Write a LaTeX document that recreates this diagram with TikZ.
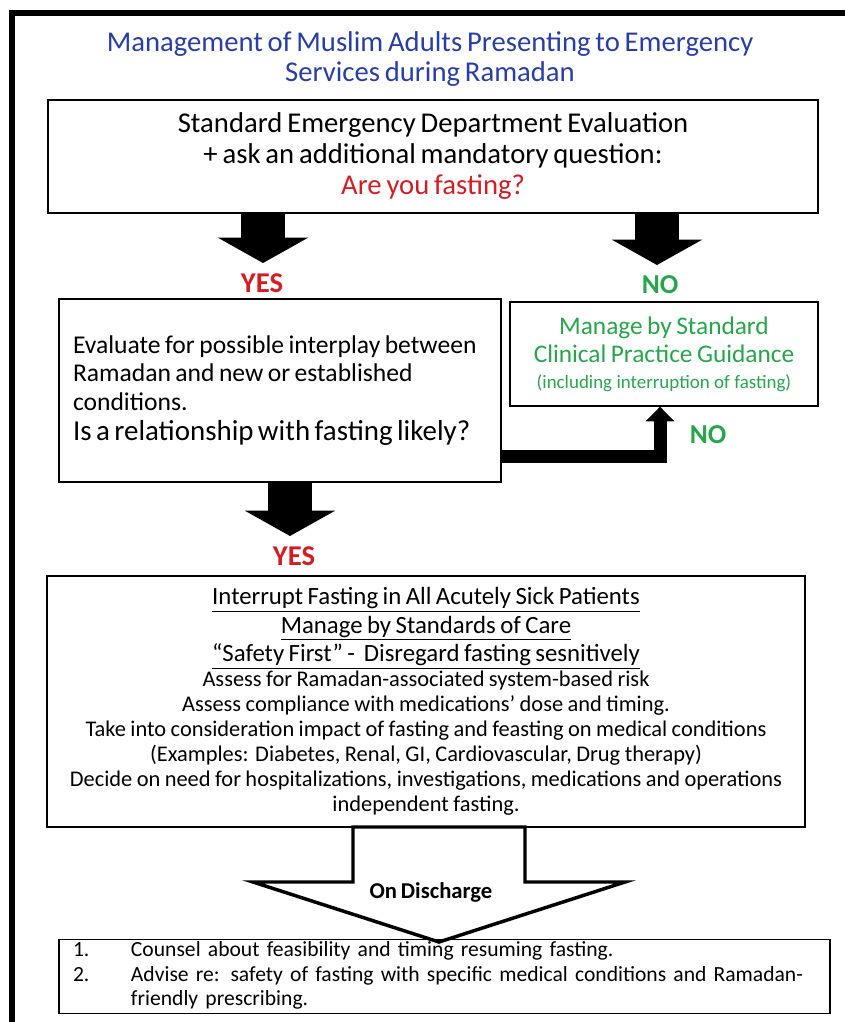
\documentclass[tikz,border=0pt]{standalone}
\usepackage{fontspec}
\setmainfont[WordSpace=0.75]{Carlito}
\usetikzlibrary{arrows.meta, positioning, calc}

\definecolor{titleblue}{RGB}{40,62,165}
\definecolor{yesred}{RGB}{210,30,35}
\definecolor{nogreen}{RGB}{40,165,75}

\tikzset{
  box/.style={draw, line width=1pt, inner sep=0pt},
  fatarrow/.style={line width=33pt, -{Triangle[length=19pt, width=67pt]}},
  elbowarrow/.style={line width=9.75pt, line join=miter, -{Triangle[length=11pt, width=21pt]}},
  yeslabel/.style={text=yesred, font=\bfseries\fontsize{21.5}{24}\selectfont},
  nolabel/.style={text=nogreen, font=\bfseries\fontsize{20.5}{24}\selectfont},
}

\begin{document}
\begin{tikzpicture}[x=0.75pt, y=-0.75pt]
    \useasboundingbox (0,0) rectangle (845,1022);

    % Frame
    \draw[line width=4.5pt, line join=miter] (845,13) -- (12,13) -- (12,1022);

    % Title
    \node[text=titleblue, align=center, font=\fontsize{21.5}{22.5}\selectfont] (title) at (430,59)
        {Management of Muslim Adults Presenting to Emergency\\Services during Ramadan};

    % Evaluation
    \node[box, minimum width=577.5pt, minimum height=84.75pt, align=center,
          font=\fontsize{21.5}{23.25}\selectfont] (eval) at (433,156.5)
        {Standard Emergency Department Evaluation\\+ ask an additional mandatory question:\\\textcolor{yesred}{Are you fasting?}};

    % Yes / No
    \coordinate (yesTip) at (263,263);
    \coordinate (noTip) at (657,265);
    \draw[fatarrow] (eval.south -| yesTip) -- (yesTip);
    \draw[fatarrow] (eval.south -| noTip) -- (noTip);
    \node[yeslabel] (yes1) at (262,283) {YES};
    \node[nolabel] (no1) at (660,285) {NO};

    % Interplay
    \node[box, minimum width=331.5pt, minimum height=137.25pt, text width=310.5pt, align=left] (interplay) at (280,390.5)
        {{\fontsize{19.2}{21.4}\selectfont Evaluate for possible interplay between\\Ramadan and new or established\\conditions.\par}%
         {\fontsize{21.7}{22.5}\selectfont Is a relationship with fasting likely?\par}};

    % Standard practice
    \node[box, minimum width=231pt, minimum height=78pt, text width=231pt, align=center, text=nogreen] (standard) at (664,354)
        {{\fontsize{19}{21}\selectfont Manage by Standard\\Clinical Practice Guidance\par}%
         {\fontsize{14.2}{19.5}\selectfont (including interruption of fasting)\par}};

    % No from interplay
    \coordinate (noKnee) at (660,456);
    \draw[elbowarrow] (interplay.east |- noKnee) -| (standard.south -| noKnee);
    \node[nolabel] (no2) at (708,435) {NO};

    % Yes from interplay
    \coordinate (yesTip2) at (290,536);
    \draw[fatarrow] (interplay.south -| yesTip2) -- (yesTip2);
    \node[yeslabel] (yes2) at (294,556) {YES};

    % Care
    \node[box, minimum width=568.5pt, minimum height=188.25pt, text width=560pt, align=center] (care) at (426,701.5)
        {{\fontsize{18.6}{21.4}\selectfont \underline{Interrupt Fasting in All Acutely Sick Patients}\\
          \underline{Manage by Standards of Care}\\
          \underline{“Safety First” -\ \ Disregard fasting sesnitively}\par}%
         {\fontsize{16.8}{18.75}\selectfont Assess for Ramadan-associated system-based risk\\
          Assess compliance with medications’ dose and timing.\\
          Take into consideration impact of fasting and feasting on medical conditions\\
          (Examples: Diabetes, Renal, GI, Cardiovascular, Drug therapy)\\
          Decide on need for hospitalizations, investigations, medications and operations\\
          independent fasting.\par}};

    % Discharge arrow
    \draw[line width=2.6pt, line join=miter, fill=white] (353,827) -- (353,882) -- (253,882) -- (439,942)
        -- (625,882) -- (525,882) -- (525,827) -- cycle;
    \node[font=\bfseries\fontsize{17}{19}\selectfont] (discharge) at (431,892) {On Discharge};

    % Counsel
    \node[box, minimum width=578.25pt, minimum height=50.25pt, text width=557.25pt, inner xsep=10.5pt, align=left,
          font=\fontsize{16.2}{18.4}\selectfont] (counsel) at (444.5,976.5)
        {\begin{tabular}{@{}p{43.5pt}@{}l@{}}
          1. & Counsel about feasibility and timing resuming fasting.\\
          2. & Advise re: safety of fasting with specific medical conditions and Ramadan-\\
             & friendly prescribing.
         \end{tabular}};

\end{tikzpicture}
\end{document}
